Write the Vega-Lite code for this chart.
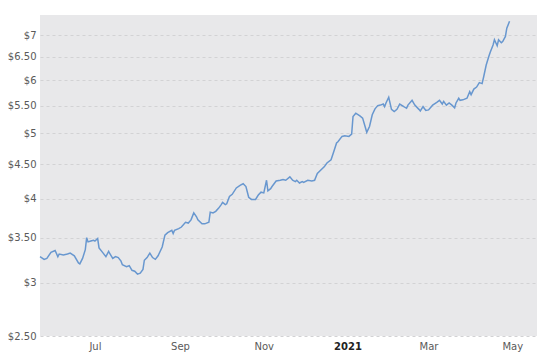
{
  "$schema": "https://vega.github.io/schema/vega-lite/v6.json",
  "width": 497,
  "height": 321,
  "autosize": {"type": "none"},
  "padding": {"left": 40, "top": 15, "right": 8, "bottom": 17},
  "background": "#ffffff",
  "config": {
    "view": {"fill": "#e8e8ea", "stroke": null},
    "font": "DejaVu Sans"
  },
  "data": {
    "values": [
      {"date": "2020-05-22", "price": 3.28},
      {"date": "2020-05-25", "price": 3.25},
      {"date": "2020-05-27", "price": 3.26},
      {"date": "2020-05-30", "price": 3.33},
      {"date": "2020-06-02", "price": 3.35},
      {"date": "2020-06-04", "price": 3.28},
      {"date": "2020-06-05", "price": 3.31},
      {"date": "2020-06-08", "price": 3.30},
      {"date": "2020-06-11", "price": 3.31},
      {"date": "2020-06-13", "price": 3.32},
      {"date": "2020-06-16", "price": 3.29},
      {"date": "2020-06-19", "price": 3.21},
      {"date": "2020-06-20", "price": 3.20},
      {"date": "2020-06-22", "price": 3.26},
      {"date": "2020-06-24", "price": 3.36},
      {"date": "2020-06-25", "price": 3.50},
      {"date": "2020-06-26", "price": 3.45},
      {"date": "2020-06-28", "price": 3.46},
      {"date": "2020-06-30", "price": 3.47},
      {"date": "2020-07-01", "price": 3.46},
      {"date": "2020-07-03", "price": 3.49},
      {"date": "2020-07-04", "price": 3.38},
      {"date": "2020-07-07", "price": 3.32},
      {"date": "2020-07-09", "price": 3.28},
      {"date": "2020-07-11", "price": 3.34},
      {"date": "2020-07-12", "price": 3.31},
      {"date": "2020-07-14", "price": 3.26},
      {"date": "2020-07-16", "price": 3.28},
      {"date": "2020-07-18", "price": 3.27},
      {"date": "2020-07-20", "price": 3.23},
      {"date": "2020-07-21", "price": 3.19},
      {"date": "2020-07-24", "price": 3.17},
      {"date": "2020-07-26", "price": 3.18},
      {"date": "2020-07-28", "price": 3.13},
      {"date": "2020-07-30", "price": 3.12},
      {"date": "2020-08-01", "price": 3.09},
      {"date": "2020-08-03", "price": 3.10},
      {"date": "2020-08-05", "price": 3.14},
      {"date": "2020-08-06", "price": 3.24},
      {"date": "2020-08-08", "price": 3.27},
      {"date": "2020-08-10", "price": 3.32},
      {"date": "2020-08-12", "price": 3.27},
      {"date": "2020-08-14", "price": 3.25},
      {"date": "2020-08-16", "price": 3.29},
      {"date": "2020-08-19", "price": 3.39},
      {"date": "2020-08-21", "price": 3.53},
      {"date": "2020-08-23", "price": 3.56},
      {"date": "2020-08-26", "price": 3.59},
      {"date": "2020-08-27", "price": 3.55},
      {"date": "2020-08-28", "price": 3.59},
      {"date": "2020-08-31", "price": 3.61},
      {"date": "2020-09-02", "price": 3.63},
      {"date": "2020-09-05", "price": 3.69},
      {"date": "2020-09-07", "price": 3.68},
      {"date": "2020-09-09", "price": 3.72},
      {"date": "2020-09-11", "price": 3.81},
      {"date": "2020-09-13", "price": 3.76},
      {"date": "2020-09-14", "price": 3.72},
      {"date": "2020-09-17", "price": 3.67},
      {"date": "2020-09-19", "price": 3.67},
      {"date": "2020-09-22", "price": 3.69},
      {"date": "2020-09-23", "price": 3.82},
      {"date": "2020-09-25", "price": 3.81},
      {"date": "2020-09-27", "price": 3.83},
      {"date": "2020-09-29", "price": 3.87},
      {"date": "2020-10-01", "price": 3.92},
      {"date": "2020-10-02", "price": 3.95},
      {"date": "2020-10-04", "price": 3.92},
      {"date": "2020-10-05", "price": 3.93},
      {"date": "2020-10-07", "price": 4.03},
      {"date": "2020-10-09", "price": 4.06},
      {"date": "2020-10-12", "price": 4.15},
      {"date": "2020-10-15", "price": 4.19},
      {"date": "2020-10-17", "price": 4.21},
      {"date": "2020-10-19", "price": 4.17},
      {"date": "2020-10-21", "price": 4.02},
      {"date": "2020-10-23", "price": 3.99},
      {"date": "2020-10-26", "price": 3.99},
      {"date": "2020-10-28", "price": 4.05},
      {"date": "2020-10-30", "price": 4.09},
      {"date": "2020-11-01", "price": 4.08},
      {"date": "2020-11-03", "price": 4.26},
      {"date": "2020-11-04", "price": 4.11},
      {"date": "2020-11-06", "price": 4.14},
      {"date": "2020-11-07", "price": 4.17},
      {"date": "2020-11-10", "price": 4.25},
      {"date": "2020-11-13", "price": 4.26},
      {"date": "2020-11-15", "price": 4.27},
      {"date": "2020-11-17", "price": 4.26},
      {"date": "2020-11-20", "price": 4.31},
      {"date": "2020-11-22", "price": 4.26},
      {"date": "2020-11-24", "price": 4.24},
      {"date": "2020-11-25", "price": 4.26},
      {"date": "2020-11-27", "price": 4.22},
      {"date": "2020-11-29", "price": 4.24},
      {"date": "2020-11-30", "price": 4.23},
      {"date": "2020-12-03", "price": 4.26},
      {"date": "2020-12-06", "price": 4.25},
      {"date": "2020-12-08", "price": 4.26},
      {"date": "2020-12-10", "price": 4.36},
      {"date": "2020-12-12", "price": 4.40},
      {"date": "2020-12-15", "price": 4.46},
      {"date": "2020-12-17", "price": 4.52},
      {"date": "2020-12-20", "price": 4.57},
      {"date": "2020-12-22", "price": 4.70},
      {"date": "2020-12-24", "price": 4.84},
      {"date": "2020-12-25", "price": 4.86},
      {"date": "2020-12-28", "price": 4.95},
      {"date": "2020-12-30", "price": 4.96},
      {"date": "2021-01-02", "price": 4.95},
      {"date": "2021-01-04", "price": 4.99},
      {"date": "2021-01-05", "price": 5.30},
      {"date": "2021-01-07", "price": 5.36},
      {"date": "2021-01-10", "price": 5.31},
      {"date": "2021-01-12", "price": 5.27},
      {"date": "2021-01-15", "price": 5.02},
      {"date": "2021-01-17", "price": 5.12},
      {"date": "2021-01-19", "price": 5.33},
      {"date": "2021-01-21", "price": 5.44},
      {"date": "2021-01-23", "price": 5.50},
      {"date": "2021-01-25", "price": 5.51},
      {"date": "2021-01-27", "price": 5.53},
      {"date": "2021-01-28", "price": 5.48},
      {"date": "2021-01-29", "price": 5.55},
      {"date": "2021-01-31", "price": 5.66},
      {"date": "2021-02-02", "price": 5.43},
      {"date": "2021-02-04", "price": 5.39},
      {"date": "2021-02-06", "price": 5.43},
      {"date": "2021-02-08", "price": 5.53},
      {"date": "2021-02-11", "price": 5.48},
      {"date": "2021-02-13", "price": 5.45},
      {"date": "2021-02-14", "price": 5.51},
      {"date": "2021-02-17", "price": 5.60},
      {"date": "2021-02-19", "price": 5.51},
      {"date": "2021-02-22", "price": 5.43},
      {"date": "2021-02-23", "price": 5.40},
      {"date": "2021-02-25", "price": 5.48},
      {"date": "2021-02-27", "price": 5.41},
      {"date": "2021-03-01", "price": 5.42},
      {"date": "2021-03-03", "price": 5.48},
      {"date": "2021-03-04", "price": 5.51},
      {"date": "2021-03-07", "price": 5.56},
      {"date": "2021-03-09", "price": 5.60},
      {"date": "2021-03-11", "price": 5.53},
      {"date": "2021-03-12", "price": 5.58},
      {"date": "2021-03-14", "price": 5.51},
      {"date": "2021-03-16", "price": 5.55},
      {"date": "2021-03-18", "price": 5.51},
      {"date": "2021-03-20", "price": 5.46},
      {"date": "2021-03-21", "price": 5.55},
      {"date": "2021-03-23", "price": 5.64},
      {"date": "2021-03-24", "price": 5.60},
      {"date": "2021-03-26", "price": 5.61},
      {"date": "2021-03-29", "price": 5.64},
      {"date": "2021-03-31", "price": 5.77},
      {"date": "2021-04-01", "price": 5.71},
      {"date": "2021-04-03", "price": 5.82},
      {"date": "2021-04-05", "price": 5.86},
      {"date": "2021-04-07", "price": 5.95},
      {"date": "2021-04-09", "price": 5.93},
      {"date": "2021-04-10", "price": 6.05},
      {"date": "2021-04-12", "price": 6.32},
      {"date": "2021-04-14", "price": 6.52},
      {"date": "2021-04-15", "price": 6.61},
      {"date": "2021-04-17", "price": 6.77},
      {"date": "2021-04-18", "price": 6.89},
      {"date": "2021-04-20", "price": 6.75},
      {"date": "2021-04-21", "price": 6.89},
      {"date": "2021-04-23", "price": 6.82},
      {"date": "2021-04-24", "price": 6.85},
      {"date": "2021-04-26", "price": 6.97},
      {"date": "2021-04-27", "price": 7.17},
      {"date": "2021-04-29", "price": 7.34}
    ]
  },
  "mark": {"type": "line", "color": "#6897cf", "strokeWidth": 1.5, "interpolate": "linear"},
  "encoding": {
    "x": {
      "field": "date",
      "type": "temporal",
      "scale": {
        "type": "utc",
        "domain": [
          {"year": 2020, "month": 5, "date": 22, "utc": true},
          {"year": 2021, "month": 5, "date": 19, "utc": true}
        ],
        "nice": false
      },
      "axis": {
        "title": null,
        "grid": false,
        "domain": false,
        "ticks": false,
        "values": [
          {"year": 2020, "month": 7, "date": 1, "utc": true},
          {"year": 2020, "month": 9, "date": 1, "utc": true},
          {"year": 2020, "month": 11, "date": 1, "utc": true},
          {"year": 2021, "month": 1, "date": 1, "utc": true},
          {"year": 2021, "month": 3, "date": 1, "utc": true},
          {"year": 2021, "month": 5, "date": 1, "utc": true}
        ],
        "labelExpr": "utcmonth(datum.value) == 0 ? utcFormat(datum.value, '%Y') : utcFormat(datum.value, '%b')",
        "labelFont": "DejaVu Sans",
        "labelFontSize": 10,
        "labelColor": {"condition": {"test": "utcmonth(datum.value) == 0", "value": "#222222"}, "value": "#5a5a5a"},
        "labelFontWeight": {"condition": {"test": "utcmonth(datum.value) == 0", "value": "bold"}, "value": "normal"},
        "labelPadding": 5,
        "labelFlush": false
      }
    },
    "y": {
      "field": "price",
      "type": "quantitative",
      "scale": {"type": "log", "domain": [2.5, 7.5], "nice": false},
      "axis": {
        "title": null,
        "domain": false,
        "ticks": false,
        "values": [2.5, 3, 3.5, 4, 4.5, 5, 5.5, 6, 6.5, 7],
        "labelExpr": "datum.value % 1 == 0 ? '$' + format(datum.value, 'd') : '$' + format(datum.value, '.2f')",
        "labelFont": "DejaVu Sans",
        "labelFontSize": 10,
        "labelColor": "#5a5a5a",
        "labelPadding": 4,
        "grid": true,
        "gridColor": "#d2d2d4",
        "gridDash": [3, 3],
        "gridWidth": 1
      }
    }
  }
}
